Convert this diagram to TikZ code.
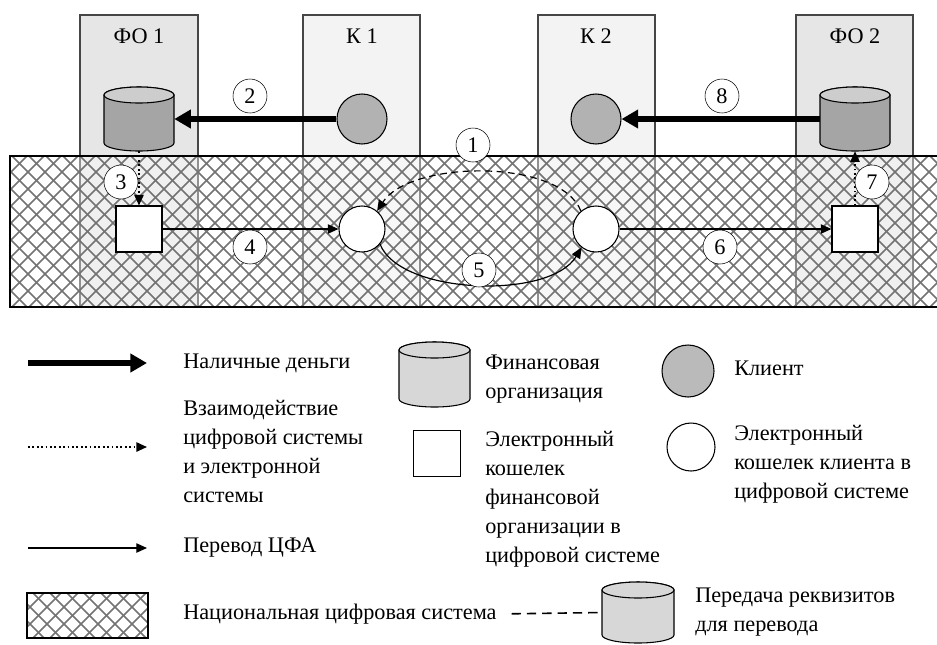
\documentclass[tikz,border=0pt]{standalone}
\usepackage{fontspec}
\setmainfont{Liberation Serif}
\usetikzlibrary{arrows.meta, positioning}
\definecolor{fobox}{RGB}{230, 230, 230}
\definecolor{klbox}{RGB}{243, 243, 243}
\definecolor{orgbody}{RGB}{165, 165, 165}
\definecolor{orgtop}{RGB}{205, 205, 205}
\definecolor{clientgray}{RGB}{178, 178, 178}
\definecolor{legendgray}{RGB}{215, 215, 215}
\definecolor{hatchgray}{RGB}{115, 115, 115}
\definecolor{stripline}{RGB}{70, 70, 70}
% crosshatch of the national digital system: x1 y1 x2 y2
\newcommand{\hatcharea}[4]{%
	\begin{scope}
		\clip (#1,#2) rectangle (#3,#4);
		\foreach \i in {0,...,66}{
			\pgfmathsetmacro{\cx}{#1-(#4-#2)+17*\i}
			\draw[hatchgray, line width=1.2pt] (\cx,#2) -- (\cx+#4-#2,#4);
			\draw[hatchgray, line width=1.2pt] (\cx+#4-#2,#2) -- (\cx,#4);
		}
	\end{scope}}
% organisation drum: name, x, y, width, height, body colour, top colour
\newcommand{\orgdrum}[7]{%
	\pgfmathsetmacro{\drx}{#4*0.375}
	\draw[thick, fill=#6] (#2-#4/2,#3-#5/2+8) -- (#2-#4/2,#3+#5/2-8)
		arc[start angle=180, end angle=360, x radius=\drx pt, y radius=6pt]
		-- (#2+#4/2,#3-#5/2+8)
		arc[start angle=0, end angle=180, x radius=\drx pt, y radius=6pt] -- cycle;
	\draw[thick, fill=#7] (#2,#3-#5/2+8) ellipse[x radius=\drx pt, y radius=6pt];
	\node[inner sep=0pt, minimum width=#4*0.75pt, minimum height=#5*0.75pt] (#1) at (#2,#3) {};}

\begin{document}
\begin{tikzpicture}[x=0.75pt, y=-0.75pt,
	font=\fontsize{16.7}{21.75}\selectfont,
	client/.style={circle, draw, thick, fill=clientgray, minimum size=37.5pt, inner sep=0pt},
	cwallet/.style={circle, draw, thick, fill=white, minimum size=34.5pt, inner sep=0pt},
	ewallet/.style={rectangle, draw, thick, fill=white, minimum size=34.5pt, inner sep=0pt},
	num/.style={circle, draw, fill=white, minimum size=25.5pt, inner sep=0pt},
	txt/.style={anchor=west, align=left, inner sep=0pt},
	cash/.style={-{Triangle[length=12.5pt, width=13.5pt]}, line width=4.5pt},
	dfa/.style={-{Triangle[length=8pt, width=7pt]}, line width=0.9pt},
	link/.style={-{Triangle[length=8pt, width=7pt]}, dotted, line width=1.3pt},
	req/.style={-{Triangle[length=8pt, width=7pt]}, dash pattern=on 5pt off 3.5pt, line width=0.9pt}
	]
	\useasboundingbox (0,0) rectangle (937,644);

	% columns
	\draw[stripline, thick, fill=fobox] (80,15) rectangle (198,307);
	\draw[stripline, thick, fill=klbox] (303,15) rectangle (420,307);
	\draw[stripline, thick, fill=klbox] (538,15) rectangle (655,307);
	\draw[stripline, thick, fill=fobox] (796,15) rectangle (913,307);
	\node (tfo1) at (139,36) {ФО 1};
	\node (tk1) at (362,36) {К 1};
	\node (tk2) at (596,36) {К 2};
	\node (tfo2) at (855,36) {ФО 2};

	% national digital system
	\fill[white, opacity=0.4] (10,156) rectangle (940,307);
	\hatcharea{10}{156}{940}{307}
	\draw[thick] (940,156) -- (10,156) -- (10,307) -- (940,307);

	\orgdrum{org1}{139}{119}{70}{64}{orgbody}{orgtop}
	\orgdrum{org2}{855}{119}{70}{64}{orgbody}{orgtop}
	\node[client] (cl1) at (362,119) {};
	\node[client] (cl2) at (596,119) {};
	\node[ewallet] (ew1) at (139,229) {};
	\node[cwallet] (cw1) at (362,229) {};
	\node[cwallet] (cw2) at (596,229) {};
	\node[ewallet] (ew2) at (855,229) {};

	\draw[cash] (cl1) -- (org1);
	\draw[cash] (org2) -- (cl2);
	\draw[link] (org1) -- (ew1);
	\draw[link] (ew2) -- (org2);
	\draw[dfa] (ew1) -- (cw1);
	\draw[dfa] (cw2) -- (ew2);
	\draw[req] (cw2.130) .. controls (560,158) and (410,160) .. (cw1.50);
	\draw[dfa] (cw1.-40) .. controls (400,295) and (550,300) .. (cw2.-128);

	\node[num] (n1) at (473,145) {1};
	\node[num] (n2) at (250,96) {2};
	\node[num] (n3) at (121,182) {3};
	\node[num] (n4) at (250,247) {4};
	\node[num] (n5) at (479,270) {5};
	\node[num] (n6) at (720,247) {6};
	\node[num] (n7) at (872,182) {7};
	\node[num] (n8) at (722,96) {8};

	% legend
	\coordinate (cash1) at (28,363);
	\coordinate (cash2) at (147,363);
	\draw[cash] (cash1) -- (cash2);
	\node[txt] (tcash) at (183,363) {Наличные деньги};
	\coordinate (link1) at (28,447);
	\coordinate (link2) at (147,447);
	\draw[link] (link1) -- (link2);
	\node[txt] (tlink) at (183,451) {Взаимодействие\\цифровой системы\\и электронной\\системы};
	\coordinate (dfa1) at (28,548);
	\coordinate (dfa2) at (147,548);
	\draw[dfa] (dfa1) -- (dfa2);
	\node[txt] (tdfa) at (183,548) {Перевод ЦФА};
	\hatcharea{27}{593}{148}{638}
	\draw[thick] (27,593) rectangle (148,638);
	\node[txt] (tnat) at (183,614) {Национальная цифровая система};
	\orgdrum{lreq}{638}{612.5}{72}{61}{legendgray}{legendgray}
	\draw[dash pattern=on 7pt off 4.5pt, line width=1.2pt, shorten <=11pt] (tnat.east) -- (lreq.west);
	\node[txt] (treq) at (695,612) {Передача реквизитов\\для перевода};

	\orgdrum{lorg}{434.5}{374.5}{71}{65}{legendgray}{legendgray}
	\node[txt] (torg) at (485,379) {Финансовая\\организация};
	\node[ewallet, minimum size=35pt] (lew) at (437,453.5) {};
	\node[txt] (tew) at (485,499) {Электронный\\кошелек\\финансовой\\организации в\\цифровой системе};
	\node[client, minimum size=39pt, fill=clientgray!90] (lcl) at (688,371) {};
	\node[txt] (tcl) at (734,368) {Клиент};
	\node[cwallet, minimum size=36pt] (lcw) at (691,447) {};
	\node[txt] (tcw) at (734,464) {Электронный\\кошелек клиента в\\цифровой системе};
\end{tikzpicture}
\end{document}
